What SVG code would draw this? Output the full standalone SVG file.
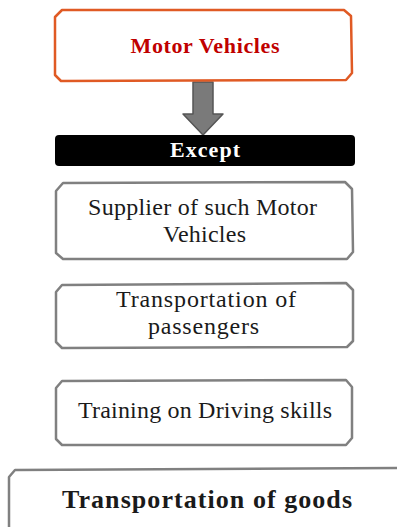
<svg xmlns="http://www.w3.org/2000/svg" width="397" height="527" viewBox="0 0 397 527">
<style>
.box{fill:#fff;stroke:#808080;stroke-width:2.5;stroke-linejoin:round}
.t{font-family:"Liberation Serif",serif;font-size:24px;fill:#1a1a1a;text-anchor:middle}
.b{font-weight:bold}
</style>
<rect width="397" height="527" fill="#fff"/>
<g id="connectors">
<path d="M193,82 L213,82 L213,114 L223,114 L203,135 L183,114 L193,114 Z" fill="#7a7a7a" stroke="#555" stroke-width="1.5" stroke-linejoin="round"/>
</g>
<g id="motor-vehicles">
<path d="M62,10 L344,10 L351,16 L352,73 L346,80 L61,81 L55,75 L55,17 Z" fill="#fff" stroke="#E05A24" stroke-width="2.5" stroke-linejoin="round"/>
<text class="t b" x="205" y="53" style="fill:#C00000;font-size:22px" textLength="149" lengthAdjust="spacing">Motor Vehicles</text>
</g>
<g id="except">
<rect x="55" y="135" width="300" height="31" rx="4" fill="#000"/>
<text class="t b" x="205" y="157" style="fill:#fff;font-size:22px" textLength="70" lengthAdjust="spacing">Except</text>
</g>
<g id="supplier">
<path class="box" d="M63,183 L345,182 L352,189 L353,252 L347,259 L63,259 L56,253 L56,191 Z"/>
<text class="t" x="202.5" y="215" textLength="229" lengthAdjust="spacing">Supplier of such Motor</text>
<text class="t" x="204.5" y="242" textLength="83" lengthAdjust="spacing">Vehicles</text>
</g>
<g id="passengers">
<path class="box" d="M62,285 L346,283 L353,290 L353,341 L347,347 L62,348 L56,342 L56,292 Z"/>
<text class="t" x="206" y="307" textLength="180" lengthAdjust="spacing">Transportation of</text>
<text class="t" x="203.5" y="334" textLength="111" lengthAdjust="spacing">passengers</text>
</g>
<g id="training">
<path class="box" d="M62,381 L346,380 L352,387 L352,438 L346,445 L62,445 L56,439 L56,388 Z"/>
<text class="t" x="205" y="418" textLength="254" lengthAdjust="spacing">Training on Driving skills</text>
</g>
<g id="goods">
<path class="box" d="M15,470 L402,468 L402,532 L9,532 L9,477 Z"/>
<text class="t b" x="207" y="508" style="font-size:26px" textLength="290" lengthAdjust="spacing">Transportation of goods</text>
</g>
</svg>
